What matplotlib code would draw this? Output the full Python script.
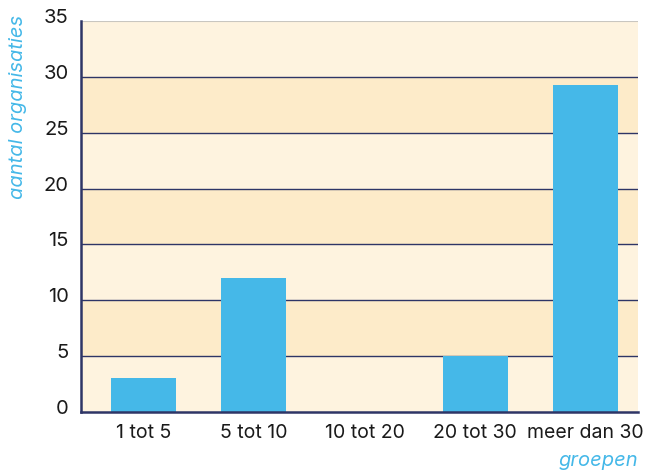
import matplotlib.pyplot as plt
import matplotlib.transforms as mtransforms

# data
groepen = ["1 tot 5", "5 tot 10", "10 tot 20", "20 tot 30", "meer dan 30"]
aantal = [3, 12, 0, 5, 29.3]
y_ticks = [0, 5, 10, 15, 20, 25, 30, 35]

BLUE = "#45B8E8"
NAVY = "#2E3566"
BAND_LIGHT = "#FEF3DF"
BAND_DARK = "#FDEBC9"

plt.rcParams['font.family'] = ['Inter', 'DejaVu Sans']

fig = plt.figure(figsize=(6.45, 4.71), dpi=100)
ax = fig.add_axes([81 / 645, 1 - 412 / 471, (638 - 81) / 645, (412 - 21) / 471])

# alternating background bands
for i in range(len(y_ticks) - 1):
    col = BAND_DARK if i % 2 == 1 else BAND_LIGHT
    ax.axhspan(y_ticks[i], y_ticks[i + 1], color=col, lw=0, zorder=0)

# grid lines
for y in y_ticks[1:-1]:
    ax.axhline(y, color=NAVY, lw=1.0, zorder=1)
ax.axhline(y_ticks[-1], color="#C9C6C0", lw=0.8, zorder=1)

x = range(len(groepen))
ax.bar(x, aantal, width=0.587, color=BLUE, zorder=2)

ax.set_xlim(-0.562, 4.472)
ax.set_ylim(0, 35)
ax.set_yticks(y_ticks)
ax.set_xticks(list(x))
ax.set_xticklabels(groepen, fontsize=14, color="#1A1A1A")
ax.tick_params(axis='y', labelsize=14.5, labelcolor="#1A1A1A", length=0, pad=9)
ax.tick_params(axis='x', length=0, pad=9)

# y labels sit a little above their grid line
offset = mtransforms.ScaledTranslation(0, 5 / 100, fig.dpi_scale_trans)
for lab in ax.get_yticklabels():
    lab.set_transform(lab.get_transform() + offset)

for side in ["top", "right"]:
    ax.spines[side].set_visible(False)
for side in ["left", "bottom"]:
    ax.spines[side].set_color(NAVY)
    ax.spines[side].set_linewidth(1.8)
    ax.spines[side].set_zorder(3)

fig.text(18 / 645, 1 - 15 / 471, "aantal organisaties", rotation=90, ha="center", va="top",
         fontsize=14.5, style="italic", color=BLUE)
fig.text(638 / 645, 1 - 461 / 471, "groepen", ha="right", va="center",
         fontsize=14.5, style="italic", color=BLUE)

fig.savefig("out.png", dpi=100)
